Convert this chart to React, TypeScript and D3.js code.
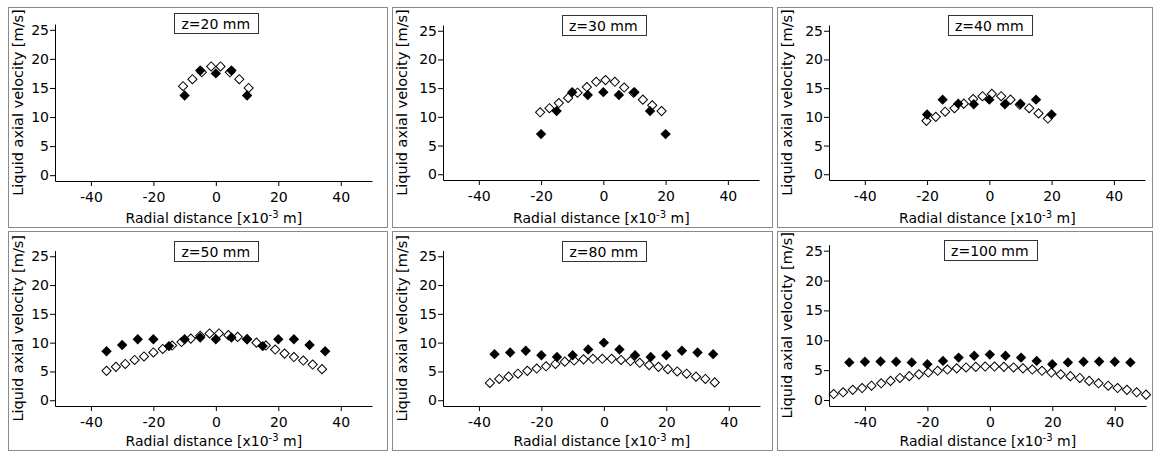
import { useEffect, useRef } from "react";
import * as d3 from "d3";

// panel titles
const titles = ["z=20 mm", "z=30 mm", "z=40 mm", "z=50 mm", "z=80 mm", "z=100 mm"];

const expX1 = [-10, -5, 0, 5, 10];
const expY1 = [13.7, 18.0, 17.5, 18.0, 13.7];
const simX1 = [-10.5, -7.5, -4.5, -1.5, 1.5, 4.5, 7.5, 10.5];
const simY1 = [15.3, 16.5, 17.7, 18.7, 18.7, 17.7, 16.5, 15.0];

const expX2 = [-20, -15, -10, -5, 0, 5, 10, 15, 20];
const expY2 = [7.0, 11.0, 14.3, 13.8, 14.3, 13.8, 14.3, 11.0, 7.0];
const simX2 = [-20.3, -17.3, -14.3, -11.3, -8.3, -5.3, -2.3, 0.7, 3.7, 6.7, 9.7, 12.7, 15.7, 18.7];
const simY2 = [10.8, 11.5, 12.4, 13.3, 14.2, 15.2, 16.1, 16.4, 16.1, 15.1, 14.2, 13.0, 12.0, 11.0];

const expX3 = [-20, -15, -10, -5, 0, 5, 10, 15, 20];
const expY3 = [10.4, 13.0, 12.3, 12.2, 13.0, 12.2, 12.3, 13.0, 10.4];
const simX3 = [-20.2, -17.2, -14.2, -11.2, -8.2, -5.2, -2.2, 0.8, 3.8, 6.8, 9.8, 12.8, 15.8, 18.8];
const simY3 = [9.3, 10.0, 10.9, 11.5, 12.3, 13.1, 13.6, 14.0, 13.6, 13.0, 12.1, 11.5, 10.6, 9.7];

const expX4 = [-35, -30, -25, -20, -15, -10, -5, 0, 5, 10, 15, 20, 25, 30, 35];
const expY4 = [8.5, 9.6, 10.6, 10.6, 9.4, 10.6, 10.9, 10.6, 10.9, 10.6, 9.4, 10.6, 10.6, 9.6, 8.5];
const simX4 = [-35, -32, -29, -26, -23, -20, -17, -14, -11, -8, -5, -2, 1, 4, 7, 10, 13, 16, 19, 22, 25, 28, 31, 34];
const simY4 = [5.1, 5.8, 6.3, 7.0, 7.6, 8.3, 8.9, 9.5, 10.1, 10.7, 11.2, 11.6, 11.6, 11.3, 11.0, 10.6, 10.0, 9.5, 8.8, 8.1, 7.5, 6.9, 6.2, 5.4];

const expX5 = [-35, -30, -25, -20, -15, -10, -5, 0, 5, 10, 15, 20, 25, 30, 35];
const expY5 = [8.0, 8.3, 8.6, 7.8, 7.5, 7.8, 8.8, 10.0, 8.8, 7.8, 7.5, 7.8, 8.6, 8.3, 8.0];
const simX5 = [-36.5, -33.5, -30.5, -27.5, -24.5, -21.5, -18.5, -15.5, -12.5, -9.5, -6.5, -3.5, -0.5, 2.5, 5.5, 8.5, 11.5, 14.5, 17.5, 20.5, 23.5, 26.5, 29.5, 32.5, 35.5];
const simY5 = [3.0, 3.7, 4.1, 4.6, 5.1, 5.5, 5.9, 6.3, 6.7, 6.9, 7.1, 7.2, 7.2, 7.2, 7.0, 6.8, 6.5, 6.1, 5.8, 5.4, 5.0, 4.6, 4.1, 3.7, 3.1];

const expX6 = [-45, -40, -35, -30, -25, -20, -15, -10, -5, 0, 5, 10, 15, 20, 25, 30, 35, 40, 45];
const expY6 = [6.3, 6.4, 6.45, 6.4, 6.3, 6.0, 6.55, 7.1, 7.4, 7.6, 7.4, 7.1, 6.55, 6.0, 6.3, 6.4, 6.45, 6.4, 6.3];
const simX6 = [-50, -47, -43.9, -40.9, -37.9, -34.8, -31.8, -28.8, -25.8, -22.7, -19.7, -16.7, -13.6, -10.6, -7.6, -4.5, -1.5, 1.5, 4.5, 7.6, 10.6, 13.6, 16.7, 19.7, 22.7, 25.8, 28.8, 31.8, 34.8, 37.9, 40.9, 43.9, 47, 50];
const simY6 = [1.0, 1.3, 1.7, 2.0, 2.4, 2.8, 3.2, 3.7, 4.0, 4.3, 4.6, 4.9, 5.1, 5.3, 5.45, 5.55, 5.6, 5.6, 5.55, 5.45, 5.3, 5.1, 4.9, 4.6, 4.3, 4.0, 3.7, 3.2, 2.8, 2.4, 2.0, 1.7, 1.3, 0.9];

const xTicks = [-40, -20, 0, 20, 40];
const yTicks = [0, 5, 10, 15, 20, 25];

const series = [
  { title: titles[0], expX: expX1, expY: expY1, simX: simX1, simY: simY1 },
  { title: titles[1], expX: expX2, expY: expY2, simX: simX2, simY: simY2 },
  { title: titles[2], expX: expX3, expY: expY3, simX: simX3, simY: simY3 },
  { title: titles[3], expX: expX4, expY: expY4, simX: simX4, simY: simY4 },
  { title: titles[4], expX: expX5, expY: expY5, simX: simX5, simY: simY5 },
  { title: titles[5], expX: expX6, expY: expY6, simX: simX6, simY: simY6 },
];

// frame [x0, y0, x1, y1] and plot area for each panel
const layout = [
  { frame: [8, 7, 387, 227], left: 55, right: 372, top: 24, bottom: 181, titleY: 13 },
  { frame: [392, 7, 772, 227], left: 443, right: 759, top: 25, bottom: 180, titleY: 15 },
  { frame: [777, 7, 1152, 227], left: 829, right: 1145, top: 25, bottom: 180, titleY: 15 },
  { frame: [8, 231, 387, 450], left: 55, right: 372, top: 250.5, bottom: 406, titleY: 241 },
  { frame: [392, 231, 772, 450], left: 443, right: 760, top: 250.5, bottom: 406, titleY: 241 },
  { frame: [777, 231, 1152, 450], left: 829, right: 1146, top: 244.7, bottom: 406, titleY: 240 },
];

const FONT = "DejaVu Sans";

const App = () => {
  const svgRef = useRef<SVGSVGElement>(null);

  useEffect(() => {
    if (!svgRef.current) return;
    const svg = d3.select(svgRef.current);
    svg.selectAll("*").remove();

    series.forEach((s, i) => {
      const L = layout[i];
      const g = svg.append("g");

      g.append("rect")
        .attr("x", L.frame[0] + 0.5)
        .attr("y", L.frame[1] + 0.5)
        .attr("width", L.frame[2] - L.frame[0])
        .attr("height", L.frame[3] - L.frame[1])
        .attr("fill", "none")
        .attr("stroke", "#8a8a8a");

      const x = d3.scaleLinear().domain([-51.5, 50]).range([L.left, L.right]);
      const y = d3.scaleLinear().domain([-1, 26]).range([L.bottom, L.top]);

      const xAxis = d3
        .axisBottom(x)
        .tickValues(xTicks)
        .tickFormat((d) => `${d}`)
        .tickSize(5)
        .tickSizeOuter(0)
        .tickPadding(6);
      g.append("g")
        .attr("transform", `translate(0,${Math.round(L.bottom)})`)
        .call(xAxis)
        .attr("font-family", FONT)
        .attr("font-size", 14);

      const yAxis = d3
        .axisLeft(y)
        .tickValues(yTicks)
        .tickFormat((d) => `${d}`)
        .tickSize(5)
        .tickSizeOuter(0)
        .tickPadding(1);
      g.append("g")
        .attr("transform", `translate(${Math.round(L.left)},0)`)
        .call(yAxis)
        .attr("font-family", FONT)
        .attr("font-size", 14);

      const openSym = d3.symbol().type(d3.symbolSquare).size(42)();
      const fillSym = d3.symbol().type(d3.symbolSquare).size(54)();

      g.append("g")
        .selectAll("path")
        .data(s.simX.map((v, k) => [v, s.simY[k]]))
        .join("path")
        .attr("d", openSym)
        .attr("transform", (d) => `translate(${x(d[0])},${y(d[1])}) rotate(45)`)
        .attr("fill", "#fff")
        .attr("stroke", "#000")
        .attr("stroke-width", 1);

      g.append("g")
        .selectAll("path")
        .data(s.expX.map((v, k) => [v, s.expY[k]]))
        .join("path")
        .attr("d", fillSym)
        .attr("transform", (d) => `translate(${x(d[0])},${y(d[1])}) rotate(45)`)
        .attr("fill", "#000");

      // title box
      const tg = g.append("g");
      const box = tg.append("rect");
      const title = tg
        .append("text")
        .attr("x", x(0))
        .attr("y", L.titleY + 15.5)
        .attr("text-anchor", "middle")
        .attr("font-family", FONT)
        .attr("font-size", 14)
        .text(s.title);
      const tw = (title.node() as SVGTextElement).getComputedTextLength();
      box
        .attr("x", Math.round(x(0) - tw / 2 - 7.5) + 0.5)
        .attr("y", L.titleY + 0.5)
        .attr("width", Math.round(tw + 15))
        .attr("height", 20)
        .attr("fill", "#fff")
        .attr("stroke", "#333");

      // axis titles
      g.append("text")
        .attr("transform", `translate(${L.frame[0] + 15},${(L.top + L.bottom) / 2}) rotate(-90)`)
        .attr("text-anchor", "middle")
        .attr("font-family", FONT)
        .attr("font-size", 14.5)
        .text("Liquid axial velocity [m/s]");

      const xl = g
        .append("text")
        .attr("x", x(0) - 2)
        .attr("y", L.frame[3] - 4)
        .attr("text-anchor", "middle")
        .attr("font-family", FONT)
        .attr("font-size", 14);
      xl.append("tspan").text("Radial distance [x10");
      xl.append("tspan").attr("font-size", 10).attr("dy", -5).text("-3");
      xl.append("tspan").attr("dy", 5).text(" m]");
    });
  }, []);

  return (
    <svg
      ref={svgRef}
      width={1154}
      height={455}
      style={{ position: "absolute", left: 0, top: 0, background: "#fff" }}
    />
  );
};

export default App;
